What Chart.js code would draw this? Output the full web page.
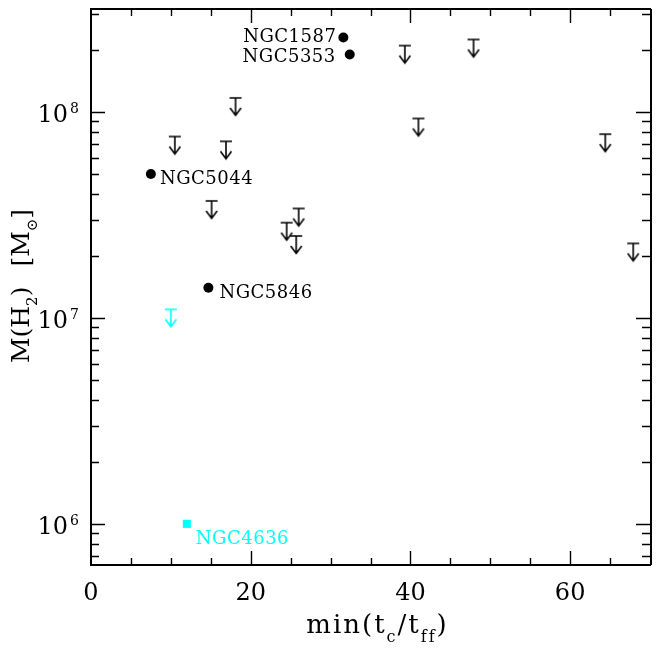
<!DOCTYPE html>
<html>
<head>
<meta charset="utf-8">
<script src="https://cdn.jsdelivr.net/npm/chart.js@4.4.0/dist/chart.umd.min.js"></script>
<style>
    html, body { margin: 0; padding: 0; background: #fff; }
    canvas { display: block; }
</style>
</head>
<body>
<canvas id="chartH2" width="659" height="652"></canvas>
<script>
// CO detections
var detNames = ["NGC1587", "NGC5353", "NGC5044", "NGC5846"];
var detX = [31.6, 32.4, 7.5, 14.7];
var detMass = [2.3e8, 1.9e8, 5.0e7, 1.4e7];

// upper limits
var limX = [10.5, 16.9, 18.1, 15.1, 24.5, 25.7, 26.0, 39.3, 41.0, 47.9, 64.4, 67.9];
var limMass = [7.6e7, 7.2e7, 1.17e8, 3.7e7, 2.9e7, 2.5e7, 3.4e7, 2.1e8, 9.3e7, 2.25e8, 7.8e7, 2.3e7];

// NGC4636, drawn in cyan
var cyanNames = ["NGC4636"];
var cyanX = [12.0];
var cyanMass = [1.0e6];
var cyanLimX = [10.0];
var cyanLimMass = [1.1e7];

var xTickValues = [0, 20, 40, 60];
var yTickValues = [1e6, 1e7, 1e8];
var yTickExps = ["6", "7", "8"];

var FONT = "'DejaVu Serif', serif";

function toPoints(xs, ys) {
    return xs.map(function (x, i) { return { x: x, y: ys[i] }; });
}

// upper-limit symbol: bar at the value, arrow pointing down
function makeArrow(color) {
    var c = document.createElement("canvas");
    c.width = 16;
    c.height = 40;
    var g = c.getContext("2d");
    g.strokeStyle = color;
    g.lineWidth = 1.6;
    g.beginPath();
    g.moveTo(2, 20); g.lineTo(14, 20);
    g.moveTo(8, 20); g.lineTo(8, 37);
    g.moveTo(2.5, 30); g.lineTo(8, 37.5); g.lineTo(13.5, 30);
    g.stroke();
    return c;
}

// draws a run of text pieces (main text, sub/superscripts) starting at x
function drawRuns(ctx, runs, x, y, align) {
    var total = 0;
    runs.forEach(function (r) {
        ctx.font = r.size + "px " + FONT;
        r.w = ctx.measureText(r.t).width + (r.gap || 0);
        total += r.w;
    });
    var cx = align === "center" ? x - total / 2 : x;
    ctx.textAlign = "left";
    runs.forEach(function (r) {
        ctx.font = r.size + "px " + FONT;
        ctx.fillText(r.t, cx, y + (r.dy || 0));
        cx += r.w;
    });
}

var pointLabels = {
    id: "pointLabels",
    afterDatasetsDraw: function (chart) {
        var ctx = chart.ctx;
        ctx.save();
        ctx.font = "18px " + FONT;
        ctx.letterSpacing = "0.5px";
        ctx.textBaseline = "alphabetic";
        chart.data.datasets.forEach(function (ds, i) {
            if (!ds.names) return;
            var meta = chart.getDatasetMeta(i);
            meta.data.forEach(function (pt, j) {
                var off = ds.labelOffsets[j];
                ctx.fillStyle = ds.labelColor;
                ctx.textAlign = off[0] < 0 ? "right" : "left";
                ctx.fillText(ds.names[j], pt.x + off[0], pt.y + off[1] + 6.5);
            });
        });
        ctx.restore();
    }
};

var frameAxes = {
    id: "frameAxes",
    afterDraw: function (chart) {
        var ctx = chart.ctx;
        var a = chart.chartArea;
        var xs = chart.scales.x;
        var ys = chart.scales.y;
        ctx.save();
        ctx.strokeStyle = "#000";
        ctx.fillStyle = "#000";

        ctx.lineWidth = 2;
        ctx.beginPath();
        ctx.moveTo(a.left, a.top); ctx.lineTo(a.left, a.bottom);
        ctx.moveTo(a.left - 1, a.bottom); ctx.lineTo(a.right + 1, a.bottom);
        ctx.moveTo(a.left - 1, a.top); ctx.lineTo(a.right + 1, a.top);
        ctx.moveTo(a.right + 1, a.top); ctx.lineTo(a.right + 1, a.bottom);
        ctx.stroke();

        // inward ticks on all four sides
        ctx.lineWidth = 1.4;
        ctx.beginPath();
        for (var v = 5; v < xs.max; v += 5) {
            var px = Math.round(xs.getPixelForValue(v)) + 0.5;
            var len = v % 20 === 0 ? 14 : 7;
            ctx.moveTo(px, a.bottom); ctx.lineTo(px, a.bottom - len);
            ctx.moveTo(px, a.top); ctx.lineTo(px, a.top + len);
        }
        for (var e = 5; e <= 8; e++) {
            for (var m = 1; m <= 9; m++) {
                var val = m * Math.pow(10, e);
                if (val < ys.min || val > ys.max) continue;
                var py = Math.round(ys.getPixelForValue(val)) + 0.5;
                var l = m === 1 ? 14 : 8;
                ctx.moveTo(a.left, py); ctx.lineTo(a.left + l, py);
                ctx.moveTo(a.right, py); ctx.lineTo(a.right - l, py);
            }
        }
        ctx.stroke();

        // tick labels
        ctx.textBaseline = "alphabetic";
        ctx.font = "24px " + FONT;
        ctx.textAlign = "center";
        xTickValues.forEach(function (v) {
            ctx.fillText(String(v), xs.getPixelForValue(v), 600);
        });
        yTickValues.forEach(function (v, i) {
            var py = ys.getPixelForValue(v);
            ctx.font = "24px " + FONT;
            ctx.textAlign = "right";
            ctx.fillText("10", 68, py + 10);
            ctx.font = "14px " + FONT;
            ctx.textAlign = "left";
            ctx.fillText(yTickExps[i], 70, py + 1);
        });

        // axis titles
        ctx.letterSpacing = "2px";
        drawRuns(ctx, [
            { t: "min(t", size: 26 },
            { t: "c", size: 16, dy: 9 },
            { t: "/t", size: 26 },
            { t: "ff", size: 16, dy: 9 },
            { t: ")", size: 26 }
        ], (a.left + a.right) / 2 + 7, 633, "center");
        ctx.letterSpacing = "0px";

        ctx.translate(29, 286);
        ctx.rotate(-Math.PI / 2);
        drawRuns(ctx, [
            { t: "M(H", size: 25 },
            { t: "2", size: 15, dy: 8 },
            { t: ")", size: 25, gap: 20 },
            { t: "[M", size: 25 },
            { t: "\u2299", size: 15, dy: 8 },
            { t: "]", size: 25 }
        ], 0, 0, "center");
        ctx.restore();
    }
};

var ctxH2 = document.getElementById("chartH2").getContext("2d");
var chartH2 = new Chart(ctxH2, {
    type: "scatter",
    data: {
        datasets: [{
            label: "detections",
            data: toPoints(detX, detMass),
            pointStyle: "circle",
            pointRadius: 5,
            backgroundColor: "#000",
            borderWidth: 0,
            names: detNames,
            labelColor: "#000",
            labelOffsets: [[-7, -2], [-14, 1], [9, 4], [11, 4]],
        }, {
            label: "upper limits",
            data: toPoints(limX, limMass),
            pointStyle: makeArrow("#000"),
            pointRadius: 8,
        }, {
            label: "NGC4636 limit",
            data: toPoints(cyanLimX, cyanLimMass),
            pointStyle: makeArrow("#00ffff"),
            pointRadius: 8,
        }, {
            label: "NGC4636",
            data: toPoints(cyanX, cyanMass),
            pointStyle: "rect",
            pointRadius: 5.7,
            backgroundColor: "#00ffff",
            borderWidth: 0,
            names: cyanNames,
            labelColor: "#00ffff",
            labelOffsets: [[9, 14]],
        }],
    },
    options: {
        responsive: false,
        animation: false,
        devicePixelRatio: 1,
        layout: { padding: { left: 91, right: 0, top: 5, bottom: 87 } },
        plugins: { legend: { display: false }, tooltip: { enabled: false } },
        scales: {
            x: { type: "linear", min: 0, max: 70, display: false },
            y: { type: "logarithmic", min: Math.pow(10, 5.8), max: Math.pow(10, 8.5), display: false },
        },
    },
    plugins: [pointLabels, frameAxes],
});
</script>
</body>
</html>
